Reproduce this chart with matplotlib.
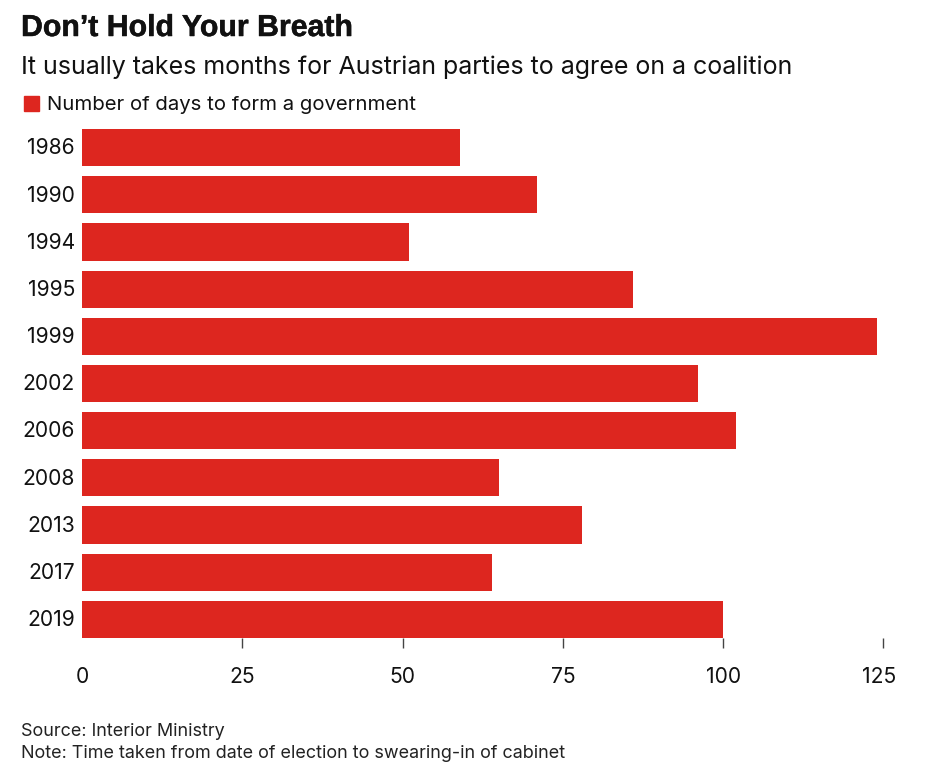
import matplotlib
matplotlib.use('Agg')
import matplotlib.pyplot as plt
import matplotlib.patheffects as pe
from matplotlib.transforms import ScaledTranslation

years = ['1986', '1990', '1994', '1995', '1999', '2002', '2006', '2008', '2013', '2017', '2019']
days = [59, 71, 51, 86, 124, 96, 102, 65, 78, 64, 100]
ticks = [0, 25, 50, 75, 100, 125]

W, H = 953, 773
RED = '#dd261f'
BAR_H = 0.79

plt.rcParams['font.family'] = ['Inter', 'Liberation Sans', 'DejaVu Sans']

fig = plt.figure(figsize=(W / 100, H / 100), dpi=100)
# axes box in pixels: bars run from y=129 to y=638
ax = fig.add_axes([82 / W, 1 - 638 / H, (883.5 - 82) / W, (638 - 129) / H])

ax.barh(range(len(years)), days, height=BAR_H, color=RED)
ax.set_ylim(len(years) - 1 + BAR_H / 2, -BAR_H / 2)
ax.set_xlim(0, 125)

ax.set_yticks(range(len(years)))
ax.set_yticklabels(years, fontsize=15.2, color='#111111')
ax.set_xticks(ticks[1:])
ax.set_xticklabels([])
ax.tick_params(axis='y', length=0, pad=5)
ax.tick_params(axis='x', length=7.2, width=1, color='#444444', direction='out')
for s in ax.spines.values():
    s.set_visible(False)

# nudge year labels up, they sit just above the bar centres
up = ScaledTranslation(0, 1.2 / 100, fig.dpi_scale_trans)
for lab in ax.get_yticklabels():
    lab.set_transform(lab.get_transform() + up)

# labels placed by hand, the last one is pulled in from the edge
trans = ax.get_xaxis_transform()
for t in ticks:
    off = -4 / 802 * 125 if t == 125 else 0
    ax.text(t + off, -39 / 509, str(t), transform=trans, ha='center', va='center',
            fontsize=15.2, color='#111111')

fig.text(21 / W, 1 - 28 / H, 'Don’t Hold Your Breath', fontsize=21.8, fontweight='bold',
         va='center', color='#111111', family=['Liberation Sans'],
         path_effects=[pe.withStroke(linewidth=0.35, foreground='#111111')])
fig.text(21 / W, 1 - 67 / H, 'It usually takes months for Austrian parties to agree on a coalition',
         fontsize=18, va='center', color='#111111')
fig.add_artist(plt.Rectangle((24 / W, 1 - 111 / H), 15 / W, 15 / H, transform=fig.transFigure,
                             color=RED))
fig.text(47 / W, 1 - 105 / H, 'Number of days to form a government', fontsize=14.65,
         va='center', color='#111111')
fig.text(21 / W, 1 - 732 / H, 'Source: Interior Ministry', fontsize=12.95, va='center', color='#222222')
fig.text(21 / W, 1 - 754 / H, 'Note: Time taken from date of election to swearing-in of cabinet',
         fontsize=12.95, va='center', color='#222222')

fig.savefig('out.png', dpi=100)
